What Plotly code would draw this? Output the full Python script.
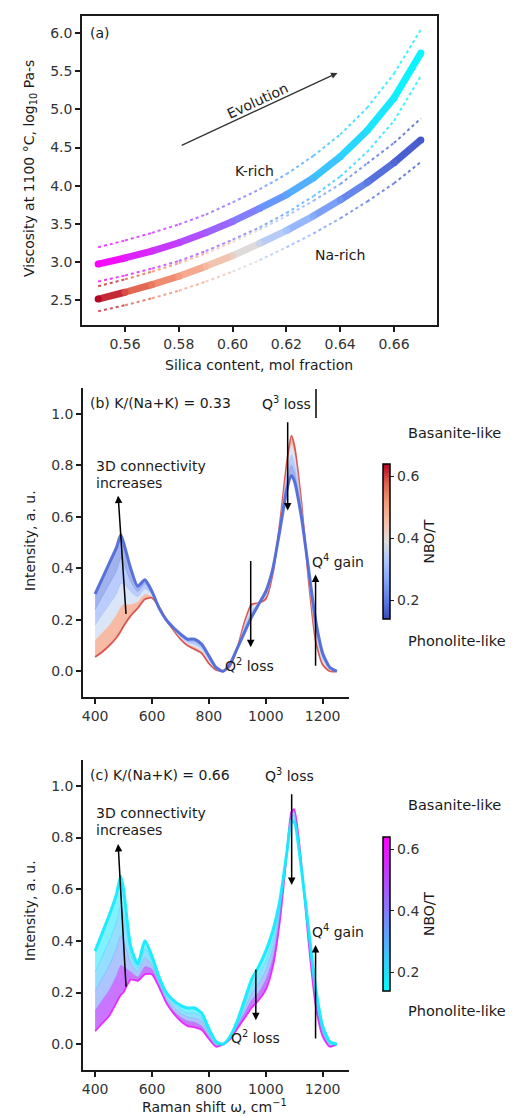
import plotly.graph_objects as go
from plotly.colors import sample_colorscale, unlabel_rgb

W, H = 519, 1116
FONT = "DejaVu Sans"
INK = "#1a1a1a"
FS = 14
FS_SIDE = 14.5

# ---------------- Panel (a): viscosity vs silica ----------------
silica = [0.55, 0.56, 0.57, 0.58, 0.59, 0.60, 0.61, 0.62, 0.63, 0.64, 0.65, 0.66, 0.67]
nbo_t = [0.64, 0.59, 0.55, 0.51, 0.465, 0.42, 0.365, 0.32, 0.275, 0.235, 0.20, 0.175, 0.155]
visc_k = [2.97, 3.05, 3.14, 3.25, 3.38, 3.53, 3.70, 3.88, 4.10, 4.38, 4.72, 5.15, 5.74]
visc_k_hi = [3.19, 3.28, 3.38, 3.49, 3.62, 3.78, 3.95, 4.15, 4.39, 4.67, 5.02, 5.47, 6.05]
visc_k_lo = [2.74, 2.82, 2.91, 3.01, 3.14, 3.29, 3.45, 3.64, 3.86, 4.12, 4.44, 4.85, 5.44]
visc_na = [2.51, 2.60, 2.70, 2.81, 2.94, 3.08, 3.24, 3.41, 3.60, 3.81, 4.04, 4.30, 4.60]
visc_na_hi = [2.68, 2.77, 2.87, 2.98, 3.11, 3.26, 3.42, 3.60, 3.80, 4.02, 4.29, 4.56, 4.88]
visc_na_lo = [2.35, 2.43, 2.52, 2.62, 2.74, 2.87, 3.02, 3.19, 3.37, 3.57, 3.79, 4.03, 4.31]

# ---------------- Panels (b), (c): Raman spectra ----------------
raman = [400, 425, 450, 475, 490, 500, 525, 550, 575, 600, 625, 650, 675, 700, 725, 750,
         775, 800, 825, 850, 875, 900, 925, 950, 975, 1000, 1025, 1050, 1075, 1090, 1100,
         1125, 1150, 1175, 1200, 1225, 1250]

spec_nbo = [0.60, 0.40, 0.30, 0.22, 0.16]

b_060 = [.055, .075, .10, .13, .155, .175, .215, .245, .28, .285, .25, .20, .16, .125, .10, .085,
         .07, .03, .005, 0, .02, .09, .19, .26, .265, .28, .38, .58, .82, .915, .88,
         .66, .36, .12, .025, 0, 0]
b_040 = [.12, .15, .18, .22, .25, .26, .26, .27, .30, .29, .25, .20, .163, .13, .106, .095,
         .078, .038, .008, 0, .022, .09, .18, .25, .265, .29, .385, .57, .79, .88, .85,
         .645, .37, .14, .035, .004, 0]
b_030 = [.18, .22, .26, .30, .34, .34, .31, .29, .32, .30, .248, .20, .166, .135, .112, .105,
         .088, .045, .01, 0, .025, .09, .17, .235, .26, .295, .39, .565, .765, .84, .81,
         .63, .38, .16, .048, .008, 0]
b_022 = [.24, .29, .34, .39, .44, .42, .35, .31, .34, .30, .246, .20, .168, .14, .118, .115,
         .097, .052, .012, 0, .028, .09, .16, .22, .26, .30, .395, .56, .74, .80, .775,
         .615, .39, .18, .06, .011, 0]
b_016 = [.30, .36, .42, .48, .53, .50, .40, .33, .355, .31, .245, .20, .17, .145, .125, .125,
         .105, .06, .015, 0, .03, .09, .15, .21, .26, .31, .40, .55, .71, .76, .74,
         .60, .40, .20, .07, .015, 0]

c_060 = [.05, .08, .11, .16, .19, .20, .25, .245, .27, .27, .22, .16, .12, .09, .07, .065,
         .055, .02, -.01, 0, .02, .06, .10, .14, .17, .21, .30, .48, .75, .90, .91,
         .70, .40, .15, .03, -.01, 0]
c_040 = [.13, .17, .21, .265, .305, .30, .28, .26, .30, .29, .23, .17, .13, .105, .09, .085,
         .07, .03, -.005, 0, .022, .07, .12, .17, .20, .25, .335, .50, .75, .89, .90,
         .695, .41, .17, .04, -.005, 0]
c_030 = [.205, .255, .305, .37, .42, .40, .315, .28, .335, .305, .24, .18, .145, .12, .105, .10,
         .09, .04, 0, 0, .025, .075, .135, .195, .235, .285, .37, .52, .75, .88, .885,
         .69, .425, .185, .05, 0, 0]
c_022 = [.28, .34, .40, .475, .535, .50, .35, .295, .37, .32, .25, .19, .16, .135, .12, .12,
         .105, .05, .005, 0, .028, .08, .15, .22, .27, .32, .405, .54, .75, .87, .87,
         .685, .44, .20, .06, .005, 0]
c_016 = [.36, .43, .50, .58, .65, .60, .38, .31, .40, .34, .26, .20, .17, .15, .14, .14,
         .12, .06, .01, 0, .03, .09, .17, .25, .30, .36, .44, .56, .75, .86, .86,
         .68, .45, .22, .07, .01, 0]

b_spectra = [b_060, b_040, b_030, b_022, b_016]
c_spectra = [c_060, c_040, c_030, c_022, c_016]

NBO_MIN, NBO_MAX = 0.14, 0.64
cbar_ticks = [0.2, 0.4, 0.6]

COOLWARM = [[0.0, "#3b4cc0"], [0.125, "#5d7ce6"], [0.25, "#82a6fb"], [0.375, "#aac7fd"],
            [0.5, "#dddcdc"], [0.625, "#f6bfa6"], [0.75, "#f49a7b"], [0.875, "#de614d"],
            [1.0, "#b40426"]]
COOL = [[0.0, "#00ffff"], [1.0, "#ff00ff"]]


def tnorm(v):
    return min(1.0, max(0.0, (v - NBO_MIN) / (NBO_MAX - NBO_MIN)))


def col(scale, v):
    return sample_colorscale(scale, [tnorm(v)])[0]


def rgba(scale, v, a):
    r, g, b = unlabel_rgb(col(scale, v))
    return f"rgba({int(r)},{int(g)},{int(b)},{a})"


def PX(x):
    return x / W


def PY(y):
    return 1 - y / H


fig = go.Figure()

# ---- panel (a) curves: gradient-coloured segments
curves_a = [
    (visc_k_hi, COOL, 2.0, "dot", False),
    (visc_k_lo, COOL, 2.0, "dot", False),
    (visc_na_hi, COOLWARM, 2.0, "dot", False),
    (visc_na_lo, COOLWARM, 2.0, "dot", False),
    (visc_na, COOLWARM, 7.0, "solid", True),
    (visc_k, COOL, 7.0, "solid", True),
]
for ys, scale, w, dash, thick in curves_a:
    for i in range(len(silica) - 1):
        c = col(scale, (nbo_t[i] + nbo_t[i + 1]) / 2)
        fig.add_trace(go.Scatter(
            x=silica[i:i + 2], y=ys[i:i + 2], mode="lines",
            line=dict(color=c, width=w, dash=dash),
            opacity=1.0 if thick else 0.8,
            xaxis="x", yaxis="y", showlegend=False, hoverinfo="skip"))
    if thick:
        fig.add_trace(go.Scatter(
            x=silica, y=ys, mode="markers",
            marker=dict(size=w, color=[col(scale, v) for v in nbo_t], line=dict(width=0)),
            xaxis="x", yaxis="y", showlegend=False, hoverinfo="skip"))


# ---- spectra panels
def add_spectra(spectra, scale, xa, ya):
    last = len(spectra) - 1
    for k, ys in enumerate(spectra):
        kw = {}
        if k > 0:
            a = 0.75 if k == 1 else 0.55
            kw = dict(fill="tonexty",
                      fillcolor=rgba(scale, (spec_nbo[k] + spec_nbo[k - 1]) / 2, a))
        if k == last:
            line = dict(color=rgba(scale, spec_nbo[k] + 0.02, 0.95), width=3.0)
        elif k == 0:
            line = dict(color=rgba(scale, spec_nbo[k], 0.85), width=1.8)
        else:
            line = dict(color=rgba(scale, spec_nbo[k], 0.45), width=1.0)
        line.update(shape="spline", smoothing=0.6)
        fig.add_trace(go.Scatter(
            x=raman, y=ys, mode="lines", line=line,
            xaxis=xa, yaxis=ya, showlegend=False, hoverinfo="skip", **kw))


add_spectra(b_spectra, COOLWARM, "x2", "y2")
add_spectra(c_spectra, COOL, "x3", "y3")

# colourbar carrier traces (off-range point, clipped)
fig.add_trace(go.Scatter(x=[0], y=[0], mode="markers",
                         marker=dict(color=[0.4], coloraxis="coloraxis", size=1),
                         xaxis="x2", yaxis="y2", showlegend=False, hoverinfo="skip"))
fig.add_trace(go.Scatter(x=[0], y=[0], mode="markers",
                         marker=dict(color=[0.4], coloraxis="coloraxis2", size=1),
                         xaxis="x3", yaxis="y3", showlegend=False, hoverinfo="skip"))


def cbar(y_top, y_bot):
    return dict(
        x=PX(375), xanchor="left", xpad=0,
        y=PY((y_top + y_bot) / 2), yanchor="middle", ypad=0,
        len=y_bot - y_top, lenmode="pixels",
        thickness=7, thicknessmode="pixels",
        outlinewidth=1.5, outlinecolor="black",
        tickvals=cbar_ticks, ticktext=[f"{v:.1f}" for v in cbar_ticks],
        ticks="outside", ticklen=4, tickwidth=1.2, tickcolor=INK,
        tickfont=dict(family=FONT, size=FS, color="#333333"),
        title=dict(text="NBO/T", side="right", font=dict(family=FONT, size=FS, color=INK)),
    )


axis_common = dict(showgrid=False, zeroline=False, showline=True, linecolor=INK,
                   linewidth=1.5, ticks="outside", ticklen=5, tickwidth=1.5,
                   tickcolor=INK, tickfont=dict(family=FONT, size=FS, color="#333333"))

fig.update_layout(
    width=W, height=H, margin=dict(l=0, r=0, t=0, b=0),
    paper_bgcolor="white", plot_bgcolor="white", showlegend=False,
    font=dict(family=FONT, size=FS, color=INK),
    xaxis=dict(domain=[PX(74), PX(429)], range=[0.544, 0.676], anchor="y",
               tickvals=[0.56, 0.58, 0.60, 0.62, 0.64, 0.66], tickformat=".2f",
               mirror=True, **axis_common),
    yaxis=dict(domain=[PY(317), PY(8)], range=[2.17, 6.227], anchor="x",
               tick0=2.5, dtick=0.5, tickformat=".1f", mirror=True, **axis_common),
    xaxis2=dict(domain=[PX(75), PX(341)], range=[357.5, 1292.5], anchor="y2",
                tickvals=[400, 600, 800, 1000, 1200], **axis_common),
    yaxis2=dict(domain=[PY(689), PY(380)], range=[-0.1, 1.1], anchor="x2",
                tickvals=[0, 0.2, 0.4, 0.6, 0.8, 1.0], tickformat=".1f", **axis_common),
    xaxis3=dict(domain=[PX(75), PX(341)], range=[357.5, 1292.5], anchor="y3",
                tickvals=[400, 600, 800, 1000, 1200], **axis_common),
    yaxis3=dict(domain=[PY(1062), PY(752)], range=[-0.1, 1.1], anchor="x3",
                tickvals=[0, 0.2, 0.4, 0.6, 0.8, 1.0], tickformat=".1f", **axis_common),
    coloraxis=dict(colorscale=COOLWARM, cmin=NBO_MIN, cmax=NBO_MAX, colorbar=cbar(456, 611)),
    coloraxis2=dict(colorscale=COOL, cmin=NBO_MIN, cmax=NBO_MAX, colorbar=cbar(829, 983)),
)

ann = []


def text_px(x, y, s, xanchor="left", angle=0, size=FS, color=INK):
    ann.append(dict(x=PX(x), y=PY(y), xref="paper", yref="paper", text=s,
                    showarrow=False, xanchor=xanchor, yanchor="middle", textangle=angle,
                    font=dict(family=FONT, size=size, color=color)))


def arrow(xr, yr, x0, y0, x1, y1, color="black", width=1.5):
    ann.append(dict(x=x1, y=y1, ax=x0, ay=y0, xref=xr, yref=yr, axref=xr, ayref=yr,
                    text="", showarrow=True, arrowhead=2, arrowsize=1,
                    arrowwidth=width, arrowcolor=color))


# axis titles
text_px(22, 161, "Viscosity at 1100 °C, log<sub>10</sub> Pa-s", "center", -90)
text_px(251, 357, "Silica content, mol fraction", "center")
text_px(22, 533, "Intensity, a. u.", "center", -90)
text_px(22, 903, "Intensity, a. u.", "center", -90)
text_px(206, 1098, "Raman shift ω, cm<sup>−1</sup>", "center")

# panel (a)
text_px(80, 25, "(a)")
arrow("x", "y", 0.5805, 4.52, 0.639, 5.48, color="#333333", width=1.3)
ann.append(dict(x=0.6091, y=5.11, xref="x", yref="y", text="Evolution", showarrow=False,
                textangle=-25, font=dict(family=FONT, size=FS, color=INK)))
ann.append(dict(x=0.608, y=4.19, xref="x", yref="y", text="K-rich", showarrow=False,
                font=dict(family=FONT, size=FS, color=INK)))
ann.append(dict(x=0.640, y=3.09, xref="x", yref="y", text="Na-rich", showarrow=False,
                font=dict(family=FONT, size=FS, color=INK)))

# panel (b)
text_px(80, 395, "(b) K/(Na+K) = 0.33")
text_px(252, 395, "Q<sup>3</sup> loss")
text_px(86, 458, "3D connectivity")
text_px(86, 475, "increases")
text_px(215, 657, "Q<sup>2</sup> loss")
text_px(302, 553, "Q<sup>4</sup> gain")
text_px(398, 425, "Basanite-like", size=FS_SIDE)
text_px(398, 633, "Phonolite-like", size=FS_SIDE)
arrow("x2", "y2", 509, 0.217, 481, 0.682)
arrow("x2", "y2", 947, 0.434, 947, 0.093)
arrow("x2", "y2", 1077, 0.973, 1077, 0.624)
arrow("x2", "y2", 1175, 0.016, 1175, 0.376)

# panel (c)
text_px(80, 767, "(c) K/(Na+K) = 0.66")
text_px(255, 767, "Q<sup>3</sup> loss")
text_px(86, 805, "3D connectivity")
text_px(86, 822, "increases")
text_px(221, 1029, "Q<sup>2</sup> loss")
text_px(302, 923, "Q<sup>4</sup> gain")
text_px(398, 797, "Basanite-like", size=FS_SIDE)
text_px(398, 1003, "Phonolite-like", size=FS_SIDE)
arrow("x3", "y3", 509, 0.217, 481, 0.775)
arrow("x3", "y3", 965, 0.295, 965, 0.093)
arrow("x3", "y3", 1091, 0.973, 1091, 0.616)
arrow("x3", "y3", 1175, 0.016, 1175, 0.384)

fig.update_layout(annotations=ann)
fig.add_shape(type="line", xref="paper", yref="paper", x0=PX(308), x1=PX(308),
              y0=PY(381), y1=PY(410), line=dict(color="black", width=1.5))

fig.write_html("out.html")
